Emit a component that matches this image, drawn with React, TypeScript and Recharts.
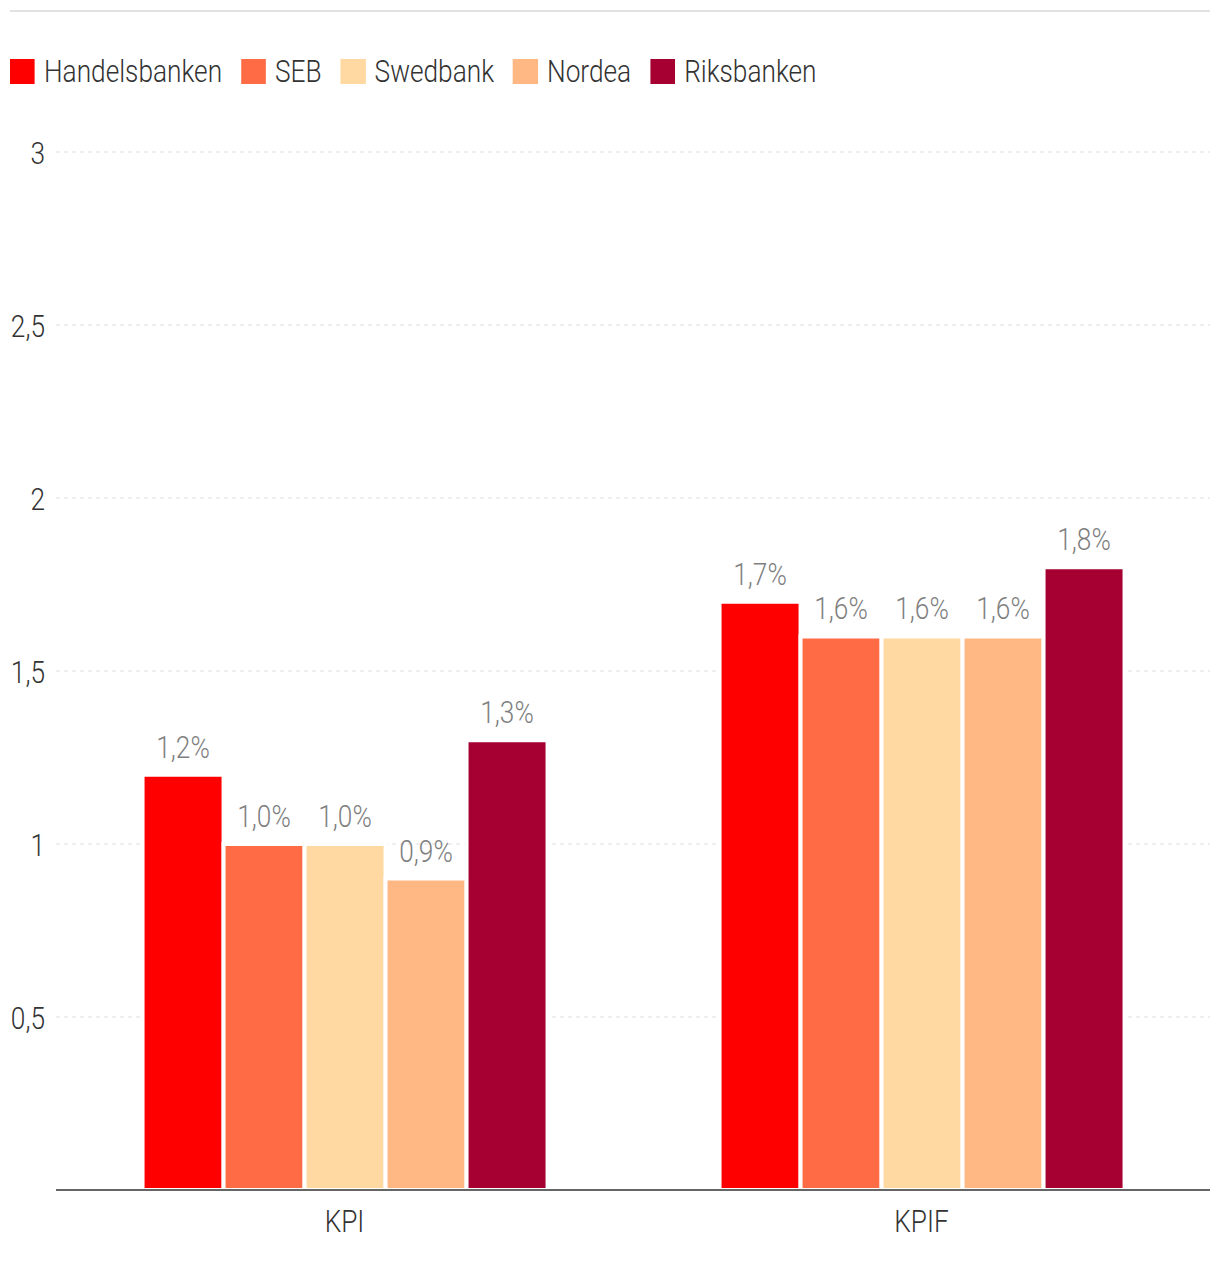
import React from "react";
import { BarChart, Bar, XAxis, YAxis, CartesianGrid, Legend, LabelList } from "recharts";

const categories = ["KPI", "KPIF"];
const handelsbanken = [1.2, 1.7];
const seb = [1.0, 1.6];
const swedbank = [1.0, 1.6];
const nordea = [0.9, 1.6];
const riksbanken = [1.3, 1.8];
const yTicks = [0.5, 1, 1.5, 2, 2.5, 3];

const seriesDefs = [
  { key: "Handelsbanken", values: handelsbanken, color: "#ff0000" },
  { key: "SEB", values: seb, color: "#ff6b45" },
  { key: "Swedbank", values: swedbank, color: "#ffd9a1" },
  { key: "Nordea", values: nordea, color: "#ffb784" },
  { key: "Riksbanken", values: riksbanken, color: "#a50031" },
];

const data = categories.map((c, i) => {
  const row: any = { name: c };
  seriesDefs.forEach((s) => (row[s.key] = s.values[i]));
  return row;
});

const FONT = "Roboto, sans-serif";
const SX = 0.82;

const fmt = (v: any) => Number(v).toFixed(1).replace(".", ",") + "%";
const fmtTick = (v: number) => String(v).replace(".", ",");

const YTick = (props: any) => {
  const { y, payload } = props;
  return (
    <text
      transform={`translate(45, ${y + 11.5}) scale(${SX}, 1)`}
      textAnchor="end"
      fill="#333"
      fontSize={32}
      fontWeight={300}
      fontFamily={FONT}
    >
      {fmtTick(payload.value)}
    </text>
  );
};

const XTick = (props: any) => {
  const { x, payload } = props;
  return (
    <text
      transform={`translate(${x}, 1232) scale(${SX}, 1)`}
      textAnchor="middle"
      fill="#333"
      fontSize={32}
      fontWeight={300}
      fontFamily={FONT}
    >
      {payload.value}
    </text>
  );
};

const BarLabel = (props: any) => {
  const { x, y, width, value } = props;
  return (
    <text
      transform={`translate(${x + width / 2}, ${y - 17}) scale(${SX}, 1)`}
      textAnchor="middle"
      fill="#7f7f7f"
      fontSize={32}
      fontWeight={300}
      fontFamily={FONT}
    >
      {fmt(value)}
    </text>
  );
};

const LegendContent = () => (
  <div
    style={{
      display: "flex",
      alignItems: "center",
      height: 30,
      fontFamily: FONT,
      fontWeight: 300,
      fontSize: 32,
      color: "#333",
      transform: `scaleX(${SX})`,
      transformOrigin: "left center",
      whiteSpace: "nowrap",
    }}
  >
    {seriesDefs.map((s) => (
      <div key={s.key} style={{ display: "flex", alignItems: "center", marginRight: 19 / SX }}>
        <div style={{ width: 25 / SX, height: 25, background: s.color, marginRight: 9 / SX }} />
        <span style={{ lineHeight: "30px" }}>{s.key}</span>
      </div>
    ))}
  </div>
);

export default function App() {
  return (
    <div style={{ position: "absolute", left: 0, top: 0, width: 1220, height: 1262, background: "#fff" }}>
      <div style={{ position: "absolute", left: 10, top: 10, width: 1200, height: 2, background: "#e2e2e2" }} />
      <BarChart
        width={1220}
        height={1262}
        data={data}
        margin={{ top: 122, right: 10, bottom: 32, left: 0 }}
        barCategoryGap="15%"
        barGap={0}
      >
        <CartesianGrid vertical={false} stroke="#dddddd" strokeDasharray="4 4" />
        <Legend
          verticalAlign="top"
          align="left"
          wrapperStyle={{ top: 56, left: 10 }}
          content={<LegendContent />}
        />
        <XAxis
          dataKey="name"
          axisLine={{ stroke: "#666", strokeWidth: 2 }}
          tickLine={false}
          height={40}
          tick={<XTick />}
        />
        <YAxis
          width={56}
          domain={[0, 3]}
          ticks={yTicks}
          axisLine={false}
          tickLine={false}
          tick={<YTick />}
        />
        {seriesDefs.map((s) => (
          <Bar key={s.key} dataKey={s.key} fill={s.color} stroke="#fff" strokeWidth={4} isAnimationActive={false}>
            <LabelList dataKey={s.key} content={<BarLabel />} />
          </Bar>
        ))}
      </BarChart>
    </div>
  );
}
